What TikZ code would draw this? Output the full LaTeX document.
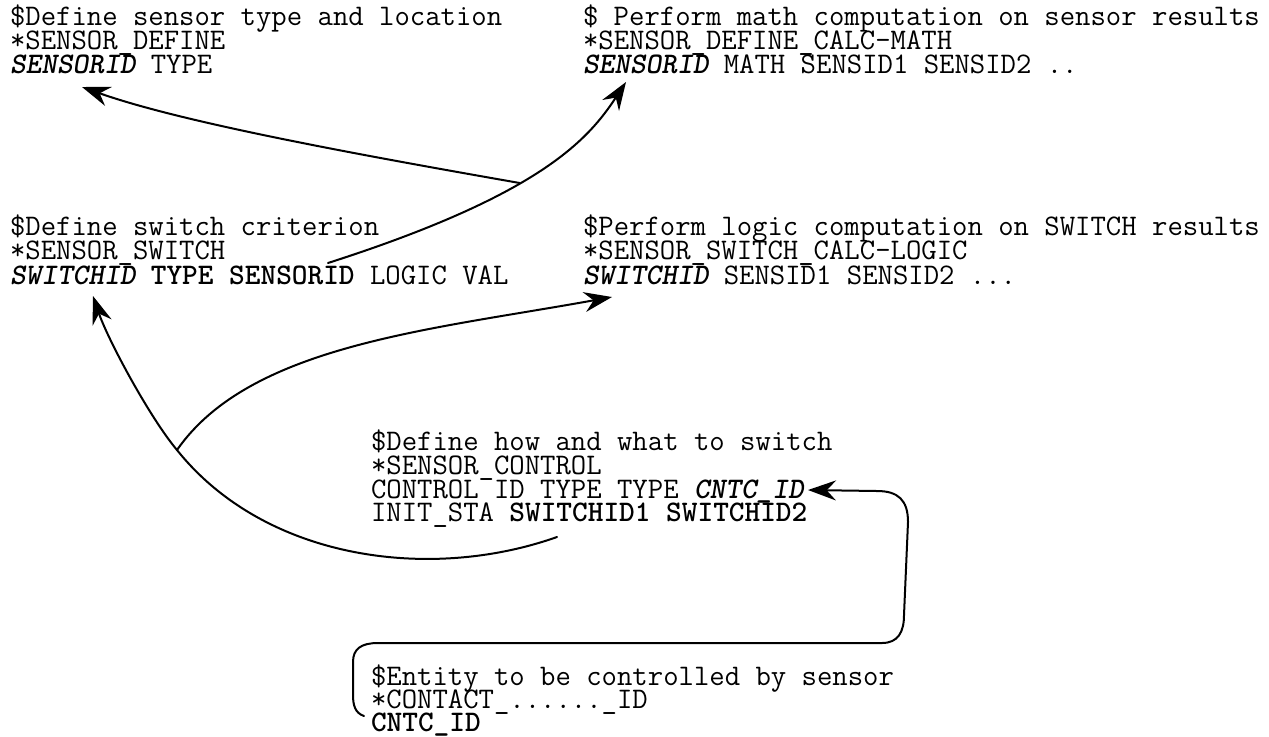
\documentclass[tikz,border=0pt]{standalone}
\usetikzlibrary{arrows.meta}
\newcommand\mybi[1]{{\bfseries\slshape #1}}
\newcommand\mybo[1]{{\bfseries #1}}
\begin{document}
\begin{tikzpicture}[x=0.75pt,y=-0.75pt,
  txt/.style={anchor=base west,inner sep=0pt,outer sep=0pt,
    text height=11.5pt,text depth=2.5pt,
    font=\ttfamily\fontsize{22.4}{24}\selectfont},
  conn/.style={line width=1.5pt,line cap=round},
  arr/.style={conn,-{Stealth[length=21pt,width=15pt,inset=7pt]}},
]
\useasboundingbox (0,0) rectangle (1269,736);
% block A
\node[txt] (a1) at (10,25) {\$Define sensor type and location};
\node[txt] (a2) at (10,49) {*SENSOR\_DEFINE};
\node[txt] (a3) at (10,73) {\mybi{SENSORID} TYPE};
% block B
\node[txt] (b1) at (583,25) {\$ Perform math computation on sensor results};
\node[txt] (b2) at (583,49) {*SENSOR\_DEFINE\_CALC-MATH};
\node[txt] (b3) at (583,73) {\mybi{SENSORID} MATH SENSID1 SENSID2 ..};
% block C
\node[txt] (c1) at (10,235) {\$Define switch criterion};
\node[txt] (c2) at (10,259) {*SENSOR\_SWITCH};
\node[txt] (c3) at (10,284) {\mybi{SWITCHID} \mybo{TYPE SENSORID} LOGIC VAL};
% block D
\node[txt] (d1) at (583,235) {\$Perform logic computation on SWITCH results};
\node[txt] (d2) at (583,259) {*SENSOR\_SWITCH\_CALC-LOGIC};
\node[txt] (d3) at (583,284) {\mybi{SWITCHID} SENSID1 SENSID2 ...};
% block E
\node[txt] (e1) at (371,450) {\$Define how and what to switch};
\node[txt] (e2) at (371,474) {*SENSOR\_CONTROL};
\node[txt] (e3) at (371,498) {CONTROL ID TYPE TYPE \mybi{CNTC\_ID}};
\node[txt] (e4) at (371,521) {INIT\_STA \mybo{SWITCHID1 SWITCHID2}};
% block F
\node[txt] (f1) at (371,685) {\$Entity to be controlled by sensor};
\node[txt] (f2) at (371,708) {*CONTACT\_......\_ID};
\node[txt] (f3) at (371,731) {\mybo{CNTC\_ID}};
% connector end points
\coordinate (s2) at (328,263);
\coordinate (t2) at (626,82);
\coordinate (t1) at (82,87);
\coordinate (t3) at (93,296);
\coordinate (t4) at (612,297);
\coordinate (s5) at (557,537);
\coordinate (j2) at (177,450);
\coordinate (s6) at (364,716);
\coordinate (t6) at (808,490);
% SENSORID (switch) -> SENSORID (calc-math)
\draw[arr] (s2) .. controls (540,195) and (588,140) .. (t2) coordinate[pos=0.42] (j1);
% branch -> SENSORID (define)
\draw[arr] (j1) .. controls (366,156) and (183,123) .. (t1);
% SWITCHID1/2 -> SWITCHID
\draw[conn] (s5) .. controls (430,582) and (265,560) .. (j2);
\draw[arr] (j2) .. controls (150,418) and (108,340) .. (t3);
\draw[arr] (j2) .. controls (250,345) and (430,330) .. (t4);
% contact loop
\draw[arr] (s6) .. controls (355,713) and (353,705) .. (353,695) -- (353,662)
  .. controls (353,649) and (361,643) .. (378,643) -- (882,643)
  .. controls (898,643) and (904,632) .. (904,615) -- (908,522)
  .. controls (908,500) and (898,491) .. (877,491) -- (t6);
\end{tikzpicture}
\end{document}
